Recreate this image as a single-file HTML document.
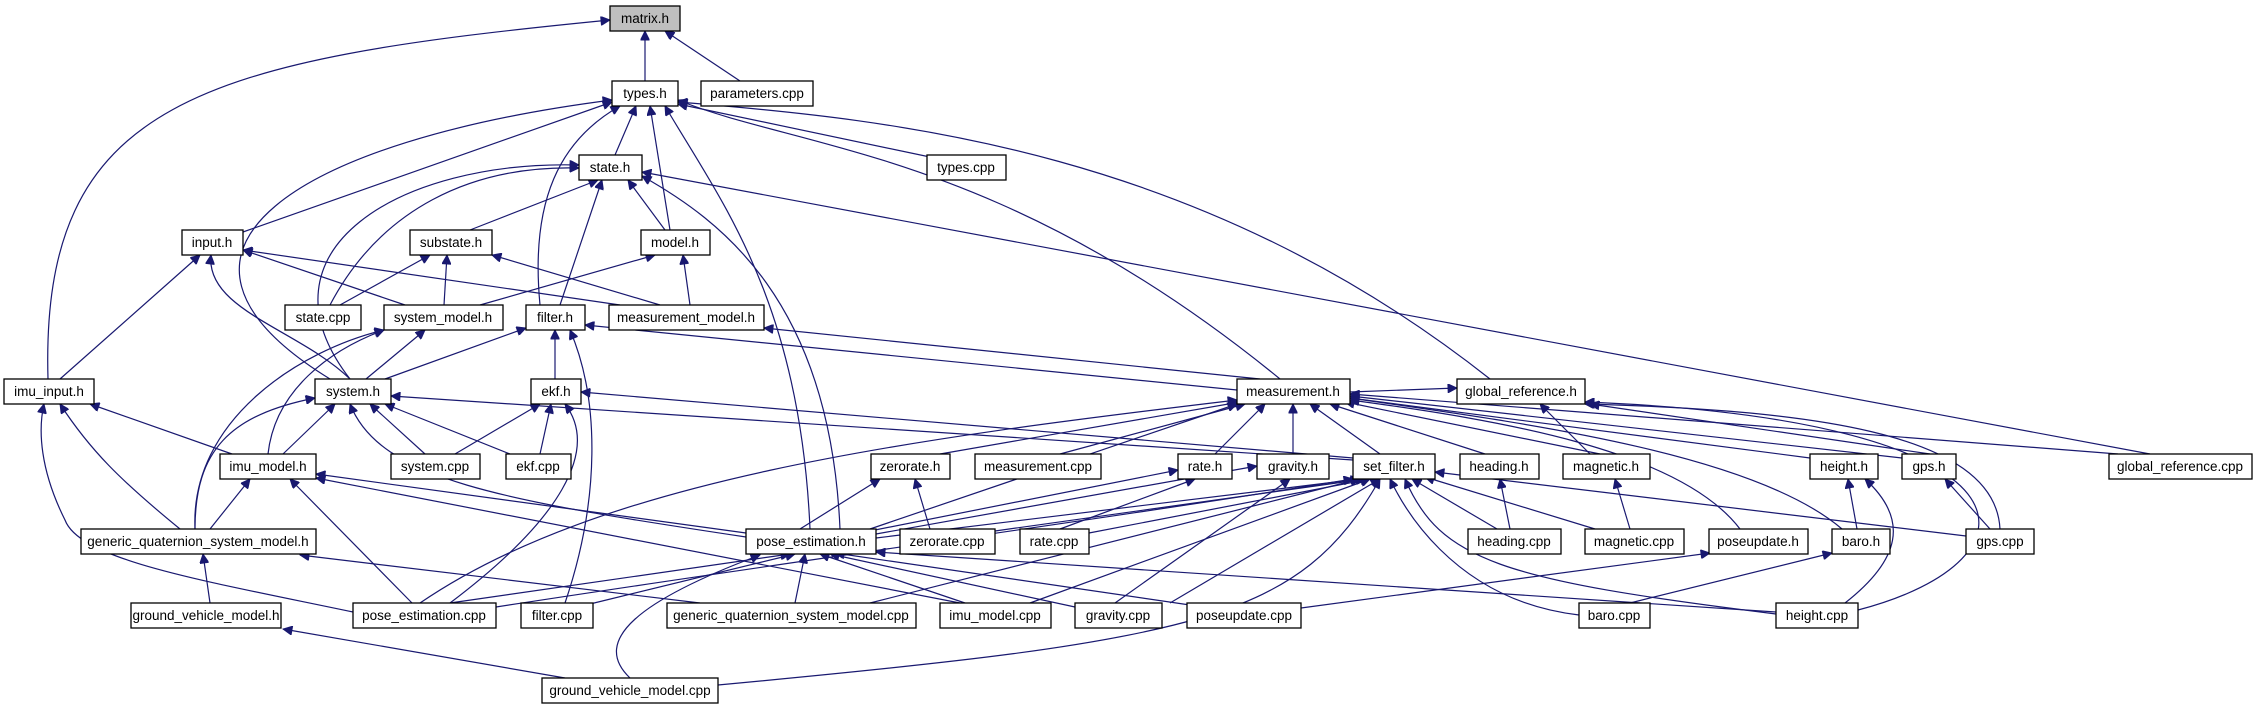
<!DOCTYPE html>
<html><head><meta charset="utf-8"><style>
body{margin:0;background:#fff}
svg{display:block}
.n rect{fill:#fff;stroke:#000;stroke-width:1.3}
.n text,text{font-family:"Liberation Sans",sans-serif;font-size:13.5px;text-anchor:middle;fill:#000}
.e path,.e line{stroke:#191970;stroke-width:1.2;fill:none;marker-end:url(#a)}
</style></head><body>
<svg width="2257" height="709" viewBox="0 0 2257 709" xmlns="http://www.w3.org/2000/svg">
<defs><marker id="a" viewBox="0 0 10 10" refX="10" refY="5" markerWidth="11" markerHeight="9" markerUnits="userSpaceOnUse" orient="auto"><path d="M0,0 L10,5 L0,10 z" fill="#191970" stroke="#191970"/></marker></defs>
<g class="e">
<line x1="645" y1="81" x2="645" y2="31"/>
<line x1="740" y1="81" x2="665" y2="31"/>
<path d="M48,379 C40,100 200,60 610,20"/>
<line x1="615" y1="155" x2="636" y2="106"/>
<line x1="243" y1="232" x2="612" y2="102"/>
<path d="M330,379 C120,250 300,140 612,100"/>
<path d="M540,305 C530,200 560,140 620,106"/>
<line x1="670" y1="230" x2="650" y2="106"/>
<path d="M810,529 C800,300 720,200 665,106"/>
<path d="M1280,379 C1000,150 800,150 678,100"/>
<line x1="930" y1="157" x2="678" y2="104"/>
<path d="M1490,379 C1200,150 900,120 678,102"/>
<line x1="470" y1="230" x2="598" y2="180"/>
<line x1="665" y1="230" x2="628" y2="180"/>
<path d="M330,305 C380,210 470,165 579,168"/>
<path d="M350,379 C250,250 400,160 579,165"/>
<line x1="560" y1="305" x2="602" y2="180"/>
<path d="M840,529 C830,300 720,220 642,176"/>
<line x1="2150" y1="454" x2="642" y2="172"/>
<line x1="340" y1="305" x2="430" y2="255"/>
<line x1="444" y1="305" x2="447" y2="255"/>
<line x1="660" y1="305" x2="492" y2="255"/>
<line x1="480" y1="305" x2="655" y2="255"/>
<line x1="690" y1="305" x2="683" y2="255"/>
<line x1="60" y1="379" x2="200" y2="255"/>
<path d="M350,379 C300,330 205,310 211,255"/>
<line x1="405" y1="305" x2="243" y2="250"/>
<line x1="620" y1="305" x2="243" y2="250"/>
<line x1="366" y1="379" x2="425" y2="330"/>
<path d="M268,454 C275,390 330,350 384,330"/>
<path d="M195,529 C190,420 300,350 384,330"/>
<line x1="385" y1="379" x2="526" y2="328"/>
<line x1="555" y1="379" x2="555" y2="330"/>
<path d="M565,603 C600,500 600,400 570,330"/>
<line x1="1237" y1="390" x2="585" y2="325"/>
<line x1="1260" y1="379" x2="764" y2="328"/>
<line x1="232" y1="454" x2="90" y2="404"/>
<path d="M180,529 C120,480 90,450 60,404"/>
<path d="M353,612 C200,580 80,560 65,520 C40,470 38,430 44,404"/>
<line x1="283" y1="454" x2="335" y2="404"/>
<line x1="425" y1="454" x2="370" y2="404"/>
<line x1="510" y1="454" x2="385" y2="404"/>
<path d="M195,529 C195,450 230,415 315,398"/>
<line x1="1353" y1="460" x2="391" y2="396"/>
<path d="M746,537 C500,500 380,480 350,404"/>
<line x1="455" y1="454" x2="540" y2="404"/>
<line x1="540" y1="454" x2="551" y2="404"/>
<path d="M450,603 C560,520 600,450 565,404"/>
<line x1="1353" y1="458" x2="581" y2="392"/>
<line x1="210" y1="529" x2="250" y2="479"/>
<line x1="412" y1="603" x2="290" y2="479"/>
<line x1="960" y1="603" x2="316" y2="478"/>
<line x1="746" y1="533" x2="316" y2="474"/>
<line x1="210" y1="603" x2="203" y2="554"/>
<line x1="700" y1="603" x2="300" y2="555"/>
<line x1="565" y1="678" x2="283" y2="629"/>
<line x1="450" y1="603" x2="790" y2="554"/>
<line x1="590" y1="604" x2="795" y2="554"/>
<line x1="795" y1="603" x2="805" y2="554"/>
<line x1="965" y1="603" x2="820" y2="554"/>
<line x1="1075" y1="607" x2="830" y2="554"/>
<line x1="1190" y1="605" x2="835" y2="553"/>
<line x1="1776" y1="612" x2="876" y2="552"/>
<path d="M630,678 C590,640 640,600 760,555"/>
<line x1="800" y1="529" x2="880" y2="479"/>
<line x1="870" y1="531" x2="1178" y2="470"/>
<line x1="876" y1="534" x2="1257" y2="466"/>
<line x1="876" y1="538" x2="1360" y2="479"/>
<line x1="870" y1="529" x2="1237" y2="404"/>
<line x1="930" y1="529" x2="915" y2="479"/>
<line x1="995" y1="531" x2="1365" y2="479"/>
<line x1="1060" y1="529" x2="1195" y2="479"/>
<line x1="1089" y1="533" x2="1370" y2="479"/>
<line x1="940" y1="454" x2="1240" y2="402"/>
<line x1="1060" y1="454" x2="1245" y2="404"/>
<line x1="1215" y1="454" x2="1265" y2="404"/>
<line x1="1293" y1="454" x2="1293" y2="404"/>
<line x1="1380" y1="454" x2="1310" y2="404"/>
<line x1="1485" y1="454" x2="1330" y2="404"/>
<line x1="1600" y1="454" x2="1345" y2="402"/>
<line x1="1810" y1="458" x2="1350" y2="398"/>
<line x1="1902" y1="458" x2="1350" y2="396"/>
<path d="M1740,529 C1680,450 1500,420 1350,400"/>
<path d="M1842,529 C1750,450 1500,420 1350,398"/>
<path d="M420,603 C600,480 900,440 1237,400"/>
<line x1="1350" y1="392" x2="1457" y2="388"/>
<line x1="1590" y1="454" x2="1540" y2="404"/>
<line x1="1930" y1="454" x2="1590" y2="404"/>
<path d="M2000,529 C1995,430 1800,410 1585,404"/>
<path d="M1858,610 C2050,560 2050,420 1585,402"/>
<line x1="2118" y1="454" x2="1350" y2="394"/>
<path d="M496,607 C800,560 1100,520 1353,479"/>
<line x1="1170" y1="603" x2="1380" y2="479"/>
<line x1="1030" y1="603" x2="1370" y2="479"/>
<line x1="870" y1="603" x2="1360" y2="479"/>
<line x1="1497" y1="529" x2="1412" y2="479"/>
<line x1="1595" y1="529" x2="1425" y2="477"/>
<line x1="1966" y1="536" x2="1435" y2="472"/>
<path d="M1579,615 C1450,600 1400,500 1390,479"/>
<path d="M1776,614 C1500,580 1440,560 1405,479"/>
<path d="M718,685 C1200,640 1300,620 1380,479"/>
<line x1="1115" y1="603" x2="1290" y2="479"/>
<line x1="1510" y1="529" x2="1500" y2="479"/>
<line x1="1630" y1="529" x2="1615" y2="479"/>
<line x1="1301" y1="608" x2="1710" y2="553"/>
<line x1="1630" y1="603" x2="1832" y2="553"/>
<line x1="1857" y1="529" x2="1848" y2="479"/>
<path d="M1845,603 C1900,560 1910,520 1865,479"/>
<line x1="1990" y1="529" x2="1945" y2="479"/>
</g>
<g class="n">
<rect x="610" y="6" width="70" height="25" style="fill:#bfbfbf"/><text x="645" y="23">matrix.h</text>
<rect x="612" y="81" width="66" height="25"/><text x="645" y="98">types.h</text>
<rect x="701" y="81" width="112" height="25"/><text x="757" y="98">parameters.cpp</text>
<rect x="579" y="155" width="63" height="25"/><text x="610" y="172">state.h</text>
<rect x="927" y="155" width="79" height="25"/><text x="966" y="172">types.cpp</text>
<rect x="182" y="230" width="61" height="25"/><text x="212" y="247">input.h</text>
<rect x="410" y="230" width="82" height="25"/><text x="451" y="247">substate.h</text>
<rect x="641" y="230" width="69" height="25"/><text x="675" y="247">model.h</text>
<rect x="285" y="305" width="76" height="25"/><text x="323" y="322">state.cpp</text>
<rect x="384" y="305" width="119" height="25"/><text x="443" y="322">system_model.h</text>
<rect x="526" y="305" width="59" height="25"/><text x="555" y="322">filter.h</text>
<rect x="609" y="305" width="155" height="25"/><text x="686" y="322">measurement_model.h</text>
<rect x="4" y="379" width="90" height="25"/><text x="49" y="396">imu_input.h</text>
<rect x="315" y="379" width="76" height="25"/><text x="353" y="396">system.h</text>
<rect x="531" y="379" width="50" height="25"/><text x="556" y="396">ekf.h</text>
<rect x="1237" y="379" width="113" height="25"/><text x="1293" y="396">measurement.h</text>
<rect x="1457" y="379" width="128" height="25"/><text x="1521" y="396">global_reference.h</text>
<rect x="220" y="454" width="96" height="25"/><text x="268" y="471">imu_model.h</text>
<rect x="391" y="454" width="89" height="25"/><text x="435" y="471">system.cpp</text>
<rect x="506" y="454" width="65" height="25"/><text x="538" y="471">ekf.cpp</text>
<rect x="871" y="454" width="79" height="25"/><text x="910" y="471">zerorate.h</text>
<rect x="975" y="454" width="126" height="25"/><text x="1038" y="471">measurement.cpp</text>
<rect x="1178" y="454" width="54" height="25"/><text x="1205" y="471">rate.h</text>
<rect x="1257" y="454" width="72" height="25"/><text x="1293" y="471">gravity.h</text>
<rect x="1353" y="454" width="82" height="25"/><text x="1394" y="471">set_filter.h</text>
<rect x="1460" y="454" width="79" height="25"/><text x="1499" y="471">heading.h</text>
<rect x="1563" y="454" width="87" height="25"/><text x="1606" y="471">magnetic.h</text>
<rect x="1810" y="454" width="68" height="25"/><text x="1844" y="471">height.h</text>
<rect x="1902" y="454" width="54" height="25"/><text x="1929" y="471">gps.h</text>
<rect x="2109" y="454" width="143" height="25"/><text x="2180" y="471">global_reference.cpp</text>
<rect x="81" y="529" width="235" height="25"/><text x="198" y="546">generic_quaternion_system_model.h</text>
<rect x="746" y="529" width="130" height="25"/><text x="811" y="546">pose_estimation.h</text>
<rect x="900" y="529" width="95" height="25"/><text x="947" y="546">zerorate.cpp</text>
<rect x="1020" y="529" width="69" height="25"/><text x="1054" y="546">rate.cpp</text>
<rect x="1468" y="529" width="93" height="25"/><text x="1514" y="546">heading.cpp</text>
<rect x="1585" y="529" width="99" height="25"/><text x="1634" y="546">magnetic.cpp</text>
<rect x="1709" y="529" width="99" height="25"/><text x="1758" y="546">poseupdate.h</text>
<rect x="1832" y="529" width="58" height="25"/><text x="1861" y="546">baro.h</text>
<rect x="1966" y="529" width="68" height="25"/><text x="2000" y="546">gps.cpp</text>
<rect x="131" y="603" width="150" height="25"/><text x="206" y="620">ground_vehicle_model.h</text>
<rect x="353" y="603" width="143" height="25"/><text x="424" y="620">pose_estimation.cpp</text>
<rect x="521" y="603" width="72" height="25"/><text x="557" y="620">filter.cpp</text>
<rect x="667" y="603" width="249" height="25"/><text x="791" y="620">generic_quaternion_system_model.cpp</text>
<rect x="940" y="603" width="111" height="25"/><text x="995" y="620">imu_model.cpp</text>
<rect x="1075" y="603" width="87" height="25"/><text x="1118" y="620">gravity.cpp</text>
<rect x="1187" y="603" width="114" height="25"/><text x="1244" y="620">poseupdate.cpp</text>
<rect x="1579" y="603" width="71" height="25"/><text x="1614" y="620">baro.cpp</text>
<rect x="1776" y="603" width="82" height="25"/><text x="1817" y="620">height.cpp</text>
<rect x="542" y="678" width="176" height="25"/><text x="630" y="695">ground_vehicle_model.cpp</text>
</g>
</svg>
</body></html>
